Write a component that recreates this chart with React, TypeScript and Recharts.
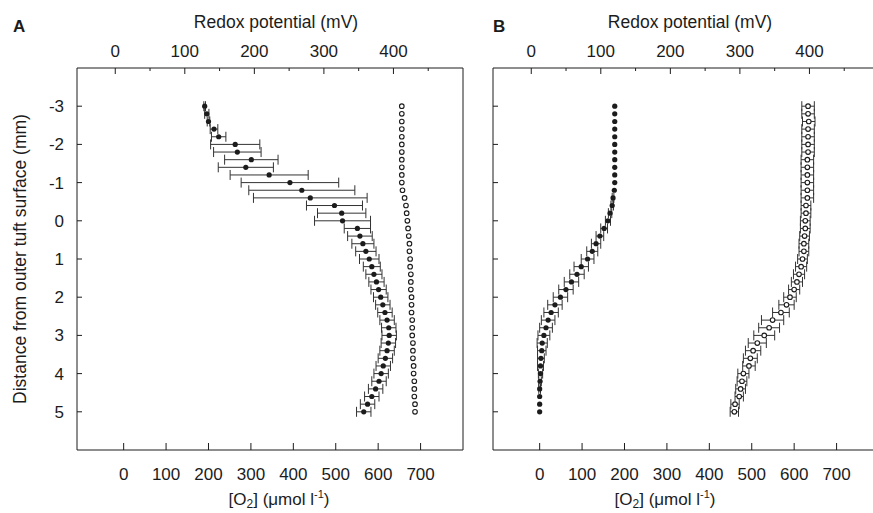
import React from 'react';
import { ScatterChart, Scatter, XAxis, YAxis, ErrorBar } from 'recharts';

// depth below the outer tuft surface (mm), one row per measurement
const depths = [-3, -2.8, -2.6, -2.4, -2.2, -2, -1.8, -1.6, -1.4, -1.2, -1, -0.8, -0.6, -0.4, -0.2, 0, 0.2, 0.4, 0.6, 0.8, 1, 1.2, 1.4, 1.6, 1.8, 2, 2.2, 2.4, 2.6, 2.8, 3, 3.2, 3.4, 3.6, 3.8, 4, 4.2, 4.4, 4.6, 4.8, 5];

// panel A
const o2A = [191, 196, 200, 213, 224, 263, 268, 301, 288, 343, 392, 420, 440, 497, 514, 516, 551, 557, 564, 571, 579, 585, 590, 596, 601, 606, 611, 616, 621, 625, 626, 624, 621, 617, 612, 607, 602, 594, 585, 575, 566];
const o2AErr = [2, 5, 3, 9, 17, 58, 56, 63, 65, 92, 115, 125, 134, 66, 57, 66, 31, 29, 26, 24, 23, 20, 19, 18, 18, 17, 17, 17, 17, 17, 17, 17, 17, 17, 17, 17, 17, 17, 17, 17, 17];
const redoxA = [412, 412, 412, 412, 412, 412, 412, 412, 412, 412, 412, 413, 416, 418, 419, 420, 421, 422, 423, 423, 424, 424, 425, 425, 425, 426, 426, 426, 427, 427, 427, 428, 428, 428, 429, 429, 430, 430, 430, 431, 431];

// panel B
const o2B = [177, 177, 177, 177, 177, 177, 177, 177, 177, 177, 177, 176, 173, 171, 166, 161, 152, 142, 133, 124, 113, 98, 88, 75, 62, 49, 36, 27, 20, 15, 10, 6, 5, 3, 2, 2, 1, 0, 0, 0, 0];
const o2BErr = [0, 0, 0, 0, 0, 0, 0, 0, 0, 0, 0, 0, 2, 3, 4, 6, 8, 9, 11, 13, 15, 17, 17, 17, 17, 17, 17, 17, 16, 15, 14, 12, 10, 8, 7, 5, 3, 2, 0, 0, 0];
const redoxB = [398, 398, 399, 398, 398, 398, 398, 397, 397, 397, 397, 397, 397, 395, 395, 394, 394, 393, 392, 392, 390, 388, 385, 382, 378, 372, 367, 359, 347, 342, 335, 325, 319, 315, 313, 305, 303, 301, 299, 293, 292];
const redoxBErr = [9, 9, 9, 9, 9, 9, 9, 9, 9, 9, 9, 9, 9, 7, 7, 7, 7, 7, 7, 7, 7, 8, 8, 8, 8, 9, 11, 12, 16, 15, 15, 13, 11, 10, 9, 8, 7, 7, 6, 6, 6];

const redoxTicks = [0, 50, 100, 150, 200, 250, 300, 350, 400, 450];
const o2Ticks = [0, 100, 200, 300, 400, 500, 600, 700];
const depthTicks = [-3, -2, -1, 0, 1, 2, 3, 4, 5];

const FONT = '"Liberation Sans", Arial, Helvetica, sans-serif';
const INK = '#1c1c1c';
const BAR = '#333';

const rows = (key: string, vals: number[], errs?: number[]) =>
  depths.map((d, i) => ({ depth: d, [key]: vals[i], err: errs ? errs[i] : 0 }));

const Filled = (p: any) => <circle cx={p.cx} cy={p.cy} r={2.6} fill={INK} />;
const Open = (p: any) => <circle cx={p.cx} cy={p.cy} r={2.3} fill="#fff" stroke={INK} strokeWidth={1.1} />;

const TopTick = (p: any) => {
  const major = p.payload.value % 100 === 0;
  return (
    <g>
      <line x1={p.x} y1={p.y} x2={p.x} y2={p.y + (major ? 6 : 3)} stroke={INK} />
      {major && (
        <text x={p.x} y={p.y - 11} textAnchor="middle" fontSize={17} fill={INK} fontFamily={FONT}>
          {p.payload.value}
        </text>
      )}
    </g>
  );
};

const BottomTick = (p: any) => (
  <g>
    <line x1={p.x} y1={p.y} x2={p.x} y2={p.y - 7} stroke={INK} />
    <text x={p.x} y={p.y + 30} textAnchor="middle" fontSize={17} fill={INK} fontFamily={FONT}>
      {p.payload.value}
    </text>
  </g>
);

const leftTick = (withText: boolean) => (p: any) => (
  <g>
    <line x1={p.x} y1={p.y} x2={p.x + 5} y2={p.y} stroke={INK} />
    {withText && (
      <text x={p.x - 13} y={p.y} dy="0.35em" textAnchor="end" fontSize={17} fill={INK} fontFamily={FONT}>
        {p.payload.value}
      </text>
    )}
  </g>
);

const topTitle = (letter: string, shift: number) => (p: any) => {
  const vb = p.viewBox;
  return (
    <g fontFamily={FONT} fill={INK}>
      <text x={13} y={32} fontSize={17} fontWeight="bold">{letter}</text>
      <text x={vb.x + vb.width / 2 + shift} y={vb.y} textAnchor="middle" fontSize={17.5}>
        Redox potential (mV)
      </text>
    </g>
  );
};

const bottomTitle = (shift: number) => (p: any) => {
  const vb = p.viewBox;
  return (
    <text x={vb.x + vb.width / 2 + shift} y={vb.y + 55} textAnchor="middle" fontSize={17} fill={INK} fontFamily={FONT}>
      <tspan>[O</tspan>
      <tspan dy={3} fontSize={12}>2</tspan>
      <tspan dy={-3}>] (μmol l</tspan>
      <tspan dy={-7} fontSize={11}>-1</tspan>
      <tspan dy={7}>)</tspan>
    </text>
  );
};

const depthTitle = (p: any) => {
  const vb = p.viewBox;
  const cx = vb.x + 3;
  const cy = vb.y + vb.height / 2;
  return (
    <text x={cx} y={cy} transform={`rotate(-90, ${cx}, ${cy})`} dy="0.35em" textAnchor="middle" fontSize={17.5} fill={INK} fontFamily={FONT}>
      Distance from outer tuft surface (mm)
    </text>
  );
};

interface PanelProps {
  letter: string;
  left: number;
  width: number;
  margin: { top: number; right: number; bottom: number; left: number };
  yWidth: number;
  depthLabels: boolean;
  topShift: number;
  bottomShift: number;
  o2: any[];
  redox: any[];
  redoxBars: boolean;
}

const Panel: React.FC<PanelProps> = (props) => (
  <div style={{ position: 'absolute', left: props.left, top: 0 }}>
    <ScatterChart width={props.width} height={513} margin={props.margin}>
      <XAxis
        xAxisId="redox"
        orientation="top"
        type="number"
        dataKey="redox"
        domain={[-55, 500]}
        allowDataOverflow
        ticks={redoxTicks}
        interval={0}
        height={40}
        tickSize={0}
        tickMargin={0}
        tickLine={false}
        tick={TopTick}
        axisLine={{ stroke: INK }}
        label={{ content: topTitle(props.letter, props.topShift) }}
      />
      <XAxis
        xAxisId="o2"
        orientation="bottom"
        type="number"
        dataKey="o2"
        domain={[-110, 800]}
        allowDataOverflow
        ticks={o2Ticks}
        interval={0}
        height={40}
        tickSize={0}
        tickMargin={0}
        tickLine={false}
        tick={BottomTick}
        axisLine={{ stroke: INK }}
        label={{ content: bottomTitle(props.bottomShift) }}
      />
      <YAxis
        yAxisId="d"
        type="number"
        dataKey="depth"
        domain={[-4, 6]}
        reversed
        allowDataOverflow
        ticks={depthTicks}
        interval={0}
        width={props.yWidth}
        tickSize={0}
        tickMargin={0}
        tickLine={false}
        tick={leftTick(props.depthLabels)}
        axisLine={{ stroke: INK }}
        label={props.depthLabels ? { content: depthTitle } : undefined}
      />
      <YAxis
        yAxisId="frame"
        orientation="right"
        type="number"
        domain={[-4, 6]}
        width={1}
        tick={false}
        tickLine={false}
        axisLine={{ stroke: INK }}
      />
      <Scatter data={props.o2} xAxisId="o2" yAxisId="d" shape={Filled} isAnimationActive={false}>
        <ErrorBar dataKey="err" direction="x" width={5} stroke={BAR} strokeWidth={1} />
      </Scatter>
      <Scatter data={props.redox} xAxisId="redox" yAxisId="d" shape={Open} isAnimationActive={false}>
        {props.redoxBars && <ErrorBar dataKey="err" direction="x" width={5} stroke={BAR} strokeWidth={1} />}
      </Scatter>
    </ScatterChart>
  </div>
);

export default function App() {
  return (
    <div style={{ position: 'fixed', left: 0, top: 0, width: 873, height: 513, overflow: 'hidden', background: '#fff' }}>
      <Panel
        letter="A"
        left={0}
        width={480}
        margin={{ top: 28, right: 16, bottom: 23, left: 17 }}
        yWidth={60}
        depthLabels
        topShift={6}
        bottomShift={9}
        o2={rows('o2', o2A, o2AErr)}
        redox={rows('redox', redoxA)}
        redoxBars={false}
      />
      <Panel
        letter="B"
        left={480}
        width={420}
        margin={{ top: 28, right: 20, bottom: 23, left: 3 }}
        yWidth={10}
        depthLabels={false}
        topShift={4}
        bottomShift={-21}
        o2={rows('o2', o2B, o2BErr)}
        redox={rows('redox', redoxB, redoxBErr)}
        redoxBars
      />
    </div>
  );
}
